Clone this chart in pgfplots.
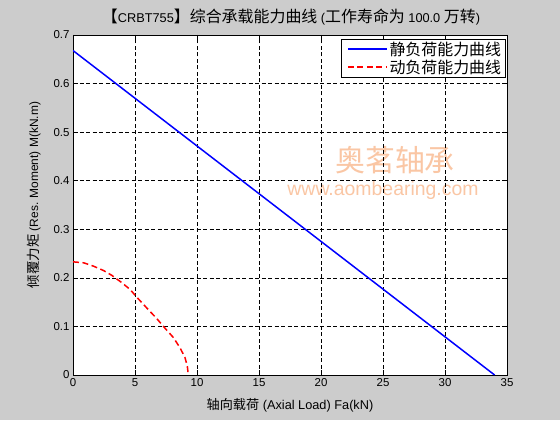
\documentclass[border=0pt]{standalone}
\usepackage{fontspec}
\setmainfont{Liberation Sans}
\newfontfamily\cjk{Noto Sans CJK SC}
\usepackage{pgfplots}
\pgfplotsset{compat=1.18}

\definecolor{figbg}{RGB}{204,204,204}
\definecolor{wmark}{RGB}{250,198,164}
\definecolor{mblue}{RGB}{0,0,255}
\definecolor{mred}{RGB}{255,0,0}

\begin{document}
\begin{tikzpicture}[x=1bp,y=1bp]
\fill[figbg] (0,0) rectangle (560,420);
\fill[white] (73,45) rectangle (507,385);
% watermark
\node[wmark, font=\cjk\fontsize{30}{32}\selectfont] at (395,260) {奥茗轴承};
\node[wmark, font=\fontsize{19.5}{22}\selectfont] at (383,230) {www.aombearing.com};
% title
\node[font=\fontsize{12.8}{15}\selectfont] at (291,403)
  {{\cjk\fontsize{16}{18}\selectfont 【}CRBT755{\cjk\fontsize{16}{18}\selectfont 】综合承载能力曲线} ({\cjk\fontsize{16}{18}\selectfont 工作寿命为} 100.0 {\cjk\fontsize{16}{18}\selectfont 万转})};

\begin{axis}[
    at={(73bp,45bp)}, anchor=south west,
    scale only axis,
    width=434bp, height=340bp,
    xmin=0, xmax=35,
    ymin=0, ymax=0.7,
    xtick={0,5,...,35},
    ytick={0,0.1,...,0.7},
    yticklabel style={/pgf/number format/fixed, /pgf/number format/precision=1},
    /pgf/number format/assume math mode=true,
    tick label style={font=\fontsize{11.5}{13}\selectfont},
    tick align=inside,
    major tick length=5bp,
    tick style={black, line width=0.6bp},
    axis line style={line width=0.8bp},
    grid=major,
    grid style={black, line width=0.6bp, dash pattern=on 4bp off 2.5bp},
    xlabel={{\cjk\fontsize{13.2}{15}\selectfont 轴向载荷} (Axial Load) Fa(kN)},
    ylabel={{\cjk\fontsize{13.5}{15}\selectfont 倾覆力矩} (Res. Moment) M(kN.m)},
    xlabel style={font=\fontsize{12.8}{15}\selectfont, at={(0.5,0)}, anchor=north, yshift=-20bp},
    ylabel style={font=\fontsize{12}{14}\selectfont, at={(0,0.529)}, anchor=south, yshift=29bp},
    legend style={at={(0.996,0.988)}, anchor=north east,
        font=\cjk\fontsize{16}{18}\selectfont,
        inner xsep=2bp, inner ysep=0.5bp,
        row sep=-1bp, cells={anchor=west}},
    legend image code/.code={\path (0bp,0bp); \draw[#1] (4bp,0bp) -- (43bp,0bp);},
]
\addplot[draw=mblue, line width=1.5bp] coordinates {(0,0.668) (34.0,0)};
\addlegendentry{静负荷能力曲线\hspace{9bp}}
\addplot[draw=mred, line width=1.5bp, dash pattern=on 6bp off 3.5bp] coordinates {
(0,0.233) (0.86,0.231) (1.66,0.224) (2.47,0.215) (3.14,0.205) (3.94,0.190)
(4.61,0.176) (5.15,0.160) (5.95,0.138) (6.76,0.116) (7.43,0.096) (8.10,0.077)
(8.63,0.056) (9.03,0.036) (9.22,0.018) (9.30,0)};
\addlegendentry{动负荷能力曲线\hspace{9bp}}
\end{axis}
\pgfresetboundingbox
\useasboundingbox (0,0) rectangle (560,420);
\end{tikzpicture}
\end{document}
